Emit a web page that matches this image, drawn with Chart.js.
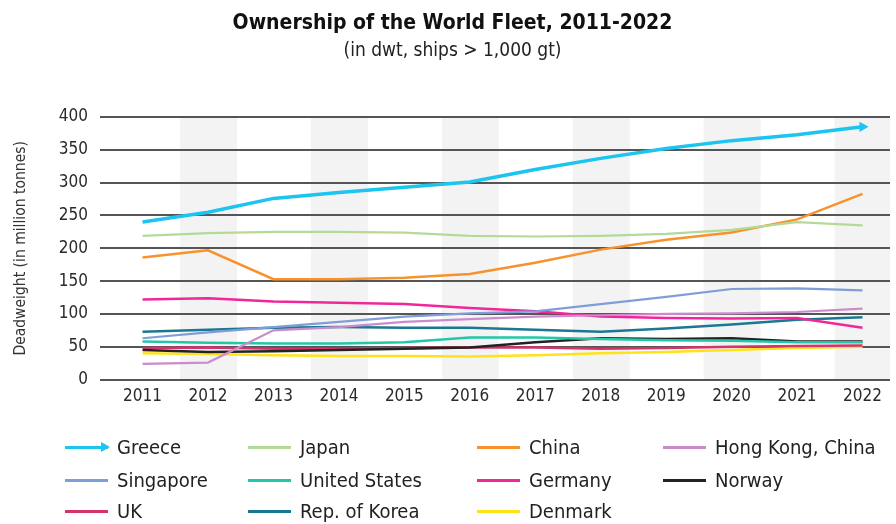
<!DOCTYPE html>
<html>
<head>
<meta charset="utf-8">
<script src="https://cdn.jsdelivr.net/npm/chart.js@4"></script>
<style>
  html, body { margin: 0; padding: 0; background: #fff; }
  #wrap { position: relative; width: 896px; height: 524px; }
  #fleet { position: absolute; left: 0; top: 0; }
  #legend { position: absolute; left: 0; top: 0; width: 896px; height: 524px; pointer-events: none;
            font-family: "DejaVu Sans Condensed", "DejaVu Sans", sans-serif; font-size: 20px; color: #222; }
  .item { position: absolute; display: flex; align-items: center; white-space: nowrap; transform: translateY(-50%); }
  .swatch { position: relative; width: 43px; height: 3px; margin-right: 9px; }
  .swatch.arrow::after { content: ""; position: absolute; right: -2px; top: -4px;
            border-left: 9px solid currentColor; border-top: 5.5px solid transparent; border-bottom: 5.5px solid transparent; }
</style>
</head>
<body>
<div id="wrap">
  <canvas id="fleet" width="896" height="524"></canvas>
  <div id="legend"></div>
</div>
<script>
const years = [2011, 2012, 2013, 2014, 2015, 2016, 2017, 2018, 2019, 2020, 2021, 2022];

// deadweight, million tonnes
const greece       = [240, 255, 276, 285, 293, 301, 320, 337, 352, 364, 373, 385];
const japan        = [219, 223, 225, 225, 224, 219, 218, 219, 222, 228, 240, 235];
const china        = [186, 197, 153, 153, 155, 161, 178, 198, 213, 224, 244, 283];
const hongKong     = [24, 26, 75, 80, 88, 92, 96, 98, 100, 101, 103, 108];
const singapore    = [63, 72, 80, 88, 96, 101, 104, 115, 126, 138, 139, 136];
const unitedStates = [58, 56, 55, 55, 57, 64, 64, 62, 60, 59, 57, 57];
const germany      = [122, 124, 119, 117, 115, 109, 104, 96, 94, 93, 94, 79];
const norway       = [45, 42, 43, 45, 47, 49, 57, 63, 62, 63, 58, 58];
const uk           = [48, 49, 47, 47, 48, 49, 49, 47, 48, 50, 51, 52];
const korea        = [73, 76, 79, 80, 79, 79, 76, 73, 78, 84, 91, 95];
const denmark      = [40, 39, 37, 36, 36, 35, 37, 40, 42, 45, 48, 50];

const yTicks = [0, 50, 100, 150, 200, 250, 300, 350, 400];

const series = [
    { label: 'Greece', data: greece, color: '#1cc4f0', width: 3.5, arrow: true },
    { label: 'Japan', data: japan, color: '#b3db97', width: 2.2 },
    { label: 'China', data: china, color: '#f7922c', width: 2.5 },
    { label: 'Hong Kong, China', data: hongKong, color: '#cc8bcc', width: 2.2 },
    { label: 'Singapore', data: singapore, color: '#7f9ed8', width: 2.2 },
    { label: 'United States', data: unitedStates, color: '#22c7aa', width: 2.5 },
    { label: 'Germany', data: germany, color: '#f0269a', width: 2.5 },
    { label: 'Norway', data: norway, color: '#222222', width: 2.5 },
    { label: 'UK', data: uk, color: '#d5336c', width: 2.5 },
    { label: 'Rep. of Korea', data: korea, color: '#1b7892', width: 2.5 },
    { label: 'Denmark', data: denmark, color: '#ffe31a', width: 2.5 }
];

const FONT = '"DejaVu Sans Condensed", "DejaVu Sans", sans-serif';

// light grey column behind every even year
const yearBands = {
    id: 'yearBands',
    beforeDraw(chart) {
        const { ctx, chartArea, scales } = chart;
        ctx.save();
        ctx.fillStyle = '#f3f3f3';
        years.filter(y => y % 2 === 0).forEach(y => {
            const cx = scales.x.getPixelForValue(y);
            const left = Math.max(cx - 28, chartArea.left);
            const right = Math.min(cx + 29, chartArea.right);
            ctx.fillRect(left, chartArea.top, right - left, chartArea.bottom - chartArea.top);
        });
        ctx.restore();
    }
};

const datasets = series.map(s => ({
    label: s.label,
    data: years.map((y, i) => ({ x: y, y: s.data[i] })),
    borderColor: s.color,
    backgroundColor: s.color,
    borderWidth: s.width,
    tension: 0,
    pointRadius: s.arrow ? (c => c.dataIndex === years.length - 1 ? 6 : 0) : 0,
    pointStyle: 'triangle',
    rotation: 90,
    pointBorderWidth: 0,
    fill: false
}));

const chart = new Chart(document.getElementById('fleet'), {
    type: 'line',
    data: { datasets: datasets },
    plugins: [yearBands],
    options: {
        responsive: false,
        animation: false,
        layout: { padding: { left: 12, right: 3, top: 0, bottom: 110 } },
        plugins: {
            legend: { display: false },
            tooltip: { enabled: false },
            title: {
                display: true,
                text: 'Ownership of the World Fleet, 2011-2022',
                color: '#111',
                font: { family: FONT, size: 21, weight: 'bold' },
                padding: { top: 11, bottom: 3 }
            },
            subtitle: {
                display: true,
                text: '(in dwt, ships > 1,000 gt)',
                color: '#222',
                font: { family: FONT, size: 19 },
                padding: { top: 0, bottom: 55 }
            }
        },
        scales: {
            x: {
                type: 'linear',
                min: 2010.35,
                max: 2022.42,
                afterBuildTicks(scale) { scale.ticks = years.map(v => ({ value: v })); },
                grid: { display: false, drawTicks: false },
                border: { display: false },
                ticks: {
                    color: '#2a2a2a',
                    font: { family: FONT, size: 17 },
                    padding: 7,
                    callback: v => String(v)
                }
            },
            y: {
                min: 0,
                max: 400,
                afterBuildTicks(scale) { scale.ticks = yTicks.map(v => ({ value: v })); },
                afterFit(scale) { scale.width = 88; },
                grid: { color: '#555555', lineWidth: 2, drawTicks: false },
                border: { display: false },
                ticks: {
                    color: '#2a2a2a',
                    font: { family: FONT, size: 17 },
                    padding: 12
                },
                title: {
                    display: true,
                    text: 'Deadweight (in million tonnes)',
                    color: '#333',
                    font: { family: FONT, size: 15.5 },
                    padding: { top: 0, bottom: 0 }
                }
            }
        }
    }
});

// legend laid out in four columns under the plot
const legendCols = [65, 248, 477, 663];
const legendRows = [447, 480, 511];
const legendBox = document.getElementById('legend');
chart.data.datasets.forEach((ds, i) => {
    const item = document.createElement('div');
    item.className = 'item';
    item.style.left = legendCols[i % 4] + 'px';
    item.style.top = legendRows[Math.floor(i / 4)] + 'px';
    const sw = document.createElement('span');
    sw.className = 'swatch' + (series[i].arrow ? ' arrow' : '');
    sw.style.background = ds.borderColor;
    sw.style.color = ds.borderColor;
    const txt = document.createElement('span');
    txt.textContent = ds.label;
    item.appendChild(sw);
    item.appendChild(txt);
    legendBox.appendChild(item);
});
</script>
</body>
</html>
